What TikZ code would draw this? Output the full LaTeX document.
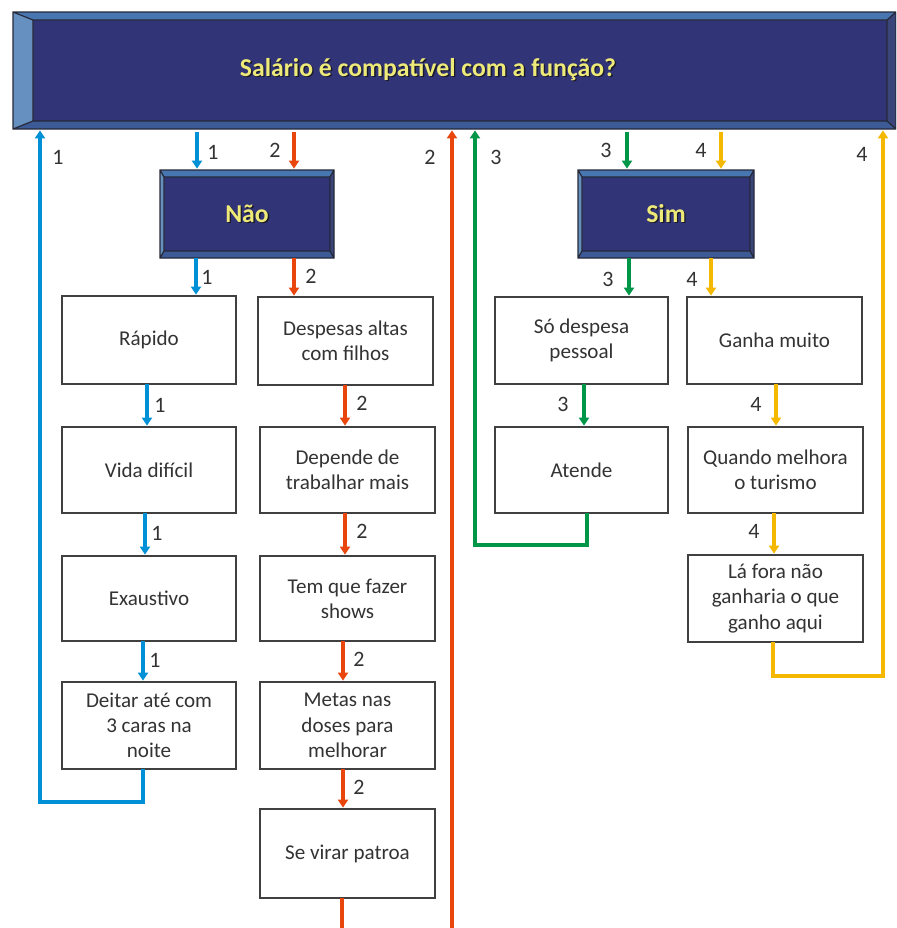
\documentclass[tikz,border=0pt]{standalone}
\usepackage{fontspec}
\setmainfont{Carlito}
\usetikzlibrary{calc,arrows.meta}

\definecolor{navy}{RGB}{50,52,120}
\definecolor{bvtopc}{RGB}{72,118,176}
\definecolor{bvleftc}{RGB}{102,144,192}
\definecolor{bvrightc}{RGB}{58,70,122}
\definecolor{bvbotc}{RGB}{60,90,150}
\definecolor{bvlinec}{RGB}{38,40,56}
\definecolor{ylw}{RGB}{238,234,122}
\definecolor{shd}{RGB}{25,25,40}
\definecolor{boxedge}{RGB}{64,64,64}
\definecolor{txt}{RGB}{51,51,51}
\definecolor{cblue}{RGB}{0,144,214}
\definecolor{cred}{RGB}{232,70,12}
\definecolor{cgreen}{RGB}{0,150,72}
\definecolor{cyel}{RGB}{245,184,0}

\tikzset{
  wbox/.style={draw=boxedge, line width=1pt, fill=white, inner sep=2pt,
    outer sep=0pt, anchor=north west, align=center, text=txt,
    font=\fontsize{15.8}{18.9}\selectfont},
  dbox/.style={fill=navy, outer sep=0pt, inner sep=0pt, anchor=north west},
  dtext/.style={text=ylw, inner sep=0pt, font=\fontsize{19.3}{23}\selectfont\bfseries},
  lbl/.style={text=txt, inner sep=0pt, font=\fontsize{16.5}{19}\selectfont},
  conn/.style={line width=2.7pt, -{Triangle[width=7.5pt,length=6pt]},
    shorten >=1pt},
  c1/.style={conn, draw=cblue},
  c2/.style={conn, draw=cred},
  c3/.style={conn, draw=cgreen},
  c4/.style={conn, draw=cyel},
  bvline/.style={draw=bvlinec, line width=0.9pt},
}

% white box: name, x0, y0, x1, y1, text (pixel units)
\newcommand\wb[6]{\node[wbox, minimum width={(#4-#2)*0.75pt},
  minimum height={(#5-#3)*0.75pt}] (#1) at (#2,#3) {#6};}

% bevelled frame around a node: name, left, top, right, bottom widths
\newcommand\bevel[5]{%
  \fill[bvtopc] (#1.north west) -- (#1.north east) -- ($(#1.north east)+(-#4,#3)$)
    -- ($(#1.north west)+(#2,#3)$) -- cycle;
  \fill[bvleftc] (#1.north west) -- ($(#1.north west)+(#2,#3)$)
    -- ($(#1.south west)+(#2,-#5)$) -- (#1.south west) -- cycle;
  \fill[bvrightc] (#1.north east) -- ($(#1.north east)+(-#4,#3)$)
    -- ($(#1.south east)+(-#4,-#5)$) -- (#1.south east) -- cycle;
  \fill[bvbotc] (#1.south west) -- ($(#1.south west)+(#2,-#5)$)
    -- ($(#1.south east)+(-#4,-#5)$) -- (#1.south east) -- cycle;
  \draw[bvline] (#1.north west) rectangle (#1.south east)
    ($(#1.north west)+(#2,#3)$) rectangle ($(#1.south east)+(-#4,-#5)$)
    (#1.north west) -- ++(#2,#3) (#1.north east) -- ++(-#4,#3)
    (#1.south west) -- ++(#2,-#5) (#1.south east) -- ++(-#4,-#5);
}

% yellow title text with a dark drop shadow
\newcommand\shtext[1]{\makebox[0pt][l]{\hspace{1pt}\raisebox{-1pt}{\textcolor{shd}{#1}}}#1}

\begin{document}
\begin{tikzpicture}[x=0.75pt, y=-0.75pt]
\clip (0,0) rectangle (896,928);
\fill[white] (0,0) rectangle (896,928);

% column positions of the connectors
\foreach \c in {40,143,145,147,196,197,294,342,343,345,452,475,584,587,627,629,711,721,773,774,776,883}
  \coordinate (x\c) at (\c,0);

% title bar and the two answer boxes
\node[dbox, minimum width={883*0.75pt}, minimum height={117*0.75pt}] (hdr) at (13,12) {};
\bevel{hdr}{20}{8}{9}{8}
\node[dtext] (hdrtext) at (428,70) {\shtext{Salário é compatível com a função?}};

\node[dbox, minimum width={174*0.75pt}, minimum height={88*0.75pt}] (nao) at (160,170) {};
\bevel{nao}{4}{7}{4}{7}
\node[dtext] (naotext) at (nao.center) {\shtext{Não}};

\node[dbox, minimum width={176*0.75pt}, minimum height={88*0.75pt}] (sim) at (578,170) {};
\bevel{sim}{4}{7}{4}{7}
\node[dtext] (simtext) at (sim.center) {\shtext{Sim}};

% "Não" branch, path 1
\wb{rap}{62}{296}{236}{384}{Rápido}
\wb{vida}{62}{427}{236}{513}{Vida difícil}
\wb{exa}{62}{556}{236}{641}{Exaustivo}
\wb{deit}{62}{682}{236}{769}{Deitar até com\\3 caras na\\noite}

% "Não" branch, path 2
\wb{desp}{258}{297}{433}{385}{Despesas altas\\com filhos}
\wb{dep}{260}{427}{435}{513}{Depende de\\trabalhar mais}
\wb{tem}{260}{556}{435}{641}{Tem que fazer\\shows}
\wb{meta}{260}{682}{435}{769}{Metas nas\\doses para\\melhorar}
\wb{sevi}{260}{809}{435}{898}{Se virar patroa}

% "Sim" branch, path 3
\wb{so}{495}{297}{668}{384}{Só despesa\\pessoal}
\wb{aten}{495}{427}{668}{513}{Atende}

% "Sim" branch, path 4
\wb{ganha}{687}{297}{862}{384}{Ganha muito}
\wb{quan}{688}{427}{863}{513}{Quando melhora\\o turismo}
\wb{lafo}{688}{555}{863}{642}{Lá fora não\\ganharia o que\\ganho aqui}

% path 1 (blue)
\draw[c1] ([yshift=-2pt]hdr.south -| x197) -- (nao.north -| x197);
\draw[c1] (nao.south -| x196) -- (rap.north -| x196);
\draw[c1] (rap.south -| x147) -- (vida.north -| x147);
\draw[c1] (vida.south -| x145) -- (exa.north -| x145);
\draw[c1] (exa.south -| x143) -- (deit.north -| x143);
\draw[c1] (deit.south -| x143) -- ++(0,33) -| (hdr.south -| x40);

% path 2 (red)
\draw[c2] ([yshift=-2pt]hdr.south -| x294) -- (nao.north -| x294);
\draw[c2] (nao.south -| x294) -- (desp.north -| x294);
\draw[c2] (desp.south -| x345) -- (dep.north -| x345);
\draw[c2] (dep.south -| x345) -- (tem.north -| x345);
\draw[c2] (tem.south -| x343) -- (meta.north -| x343);
\draw[c2] (meta.south -| x343) -- (sevi.north -| x343);
\draw[c2] (sevi.south -| x342) -- ++(0,50) -| (hdr.south -| x452);

% path 3 (green)
\draw[c3] ([yshift=-2pt]hdr.south -| x627) -- (sim.north -| x627);
\draw[c3] (sim.south -| x629) -- (so.north -| x629);
\draw[c3] (so.south -| x584) -- (aten.north -| x584);
\draw[c3] (aten.south -| x587) -- ++(0,32) -| (hdr.south -| x475);

% path 4 (yellow)
\draw[c4] ([yshift=-2pt]hdr.south -| x721) -- (sim.north -| x721);
\draw[c4] (sim.south -| x711) -- (ganha.north -| x711);
\draw[c4] (ganha.south -| x776) -- (quan.north -| x776);
\draw[c4] (quan.south -| x774) -- (lafo.north -| x774);
\draw[c4] (lafo.south -| x773) -- ++(0,34) -| (hdr.south -| x883);

% path numbers
\foreach \n/\x/\y/\t in {
  a1/213/152/1, a2/207/277/1, a3/160/405/1, a4/157/533/1, a5/155/660/1, a6/58/157/1,
  b1/275/150/2, b2/311/276/2, b3/362/403/2, b4/362/531/2, b5/359/659/2, b6/359/787/2, b7/430/157/2,
  g1/606/150/3, g2/608/279/3, g3/563/404/3, g4/496/157/3,
  y1/701/150/4, y2/692/279/4, y3/756/404/4, y4/754/531/4, y5/862/154/4}
  \node[lbl] (n\n) at (\x,\y) {\t};
\end{tikzpicture}
\end{document}
